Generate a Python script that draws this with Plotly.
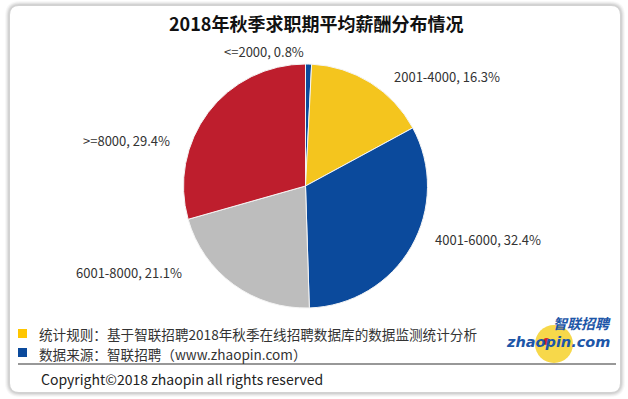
import plotly.graph_objects as go

# ---- data ----
categories = ["<=2000", "2001-4000", "4001-6000", "6001-8000", ">=8000"]
shares = [0.8, 16.3, 32.4, 21.1, 29.4]
slice_colors = ["#0B4A9C", "#F4C51E", "#0B4A9C", "#BDBDBD", "#BE1E2D"]
title_text = "2018年秋季求职期平均薪酬分布情况"
note_rule = "统计规则：基于智联招聘2018年秋季在线招聘数据库的数据监测统计分析"
note_source = "数据来源：智联招聘（www.zhaopin.com）"
copyright_text = "Copyright©2018 zhaopin all rights reserved"

W, H = 628, 399
FONT = "Noto Sans CJK SC"

def px(x):
    return x / W

def py(y):
    return 1 - y / H

fig = go.Figure()
fig.add_trace(go.Pie(
    labels=categories, values=shares, sort=False, direction="clockwise",
    rotation=0, marker=dict(colors=slice_colors, line=dict(color="#F4F4F4", width=1)),
    textinfo="none", hoverinfo="label+percent", showlegend=False,
    domain=dict(x=[px(183), px(428)], y=[py(308), py(64)]),
))

# label positions (layout only)
label_pos = [(264, 51), (447, 77), (488, 239), (129, 272), (126, 141)]
annotations = []
for cat, val, (lx, ly) in zip(categories, shares, label_pos):
    annotations.append(dict(
        x=px(lx), y=py(ly), xref="paper", yref="paper", showarrow=False,
        text=f"{cat}, {val:.1f}%", font=dict(family=FONT, size=13, color="#333333"),
        xanchor="center", yanchor="middle"))

annotations += [
    dict(x=px(316), y=py(23), xref="paper", yref="paper", showarrow=False,
         text=f"<b>{title_text}</b>", font=dict(family=FONT, size=18, color="#111111"),
         xanchor="center", yanchor="middle"),
    dict(x=px(37), y=py(334), xref="paper", yref="paper", showarrow=False,
         text=note_rule, font=dict(family=FONT, size=13.6, color="#333333"),
         xanchor="left", yanchor="middle"),
    dict(x=px(37), y=py(354), xref="paper", yref="paper", showarrow=False,
         text=note_source, font=dict(family=FONT, size=13.6, color="#333333"),
         xanchor="left", yanchor="middle"),
    dict(x=px(39), y=py(379), xref="paper", yref="paper", showarrow=False,
         text=copyright_text, font=dict(family=FONT, size=14, color="#222222"),
         xanchor="left", yanchor="middle"),
    dict(x=px(613), y=py(323), xref="paper", yref="paper", showarrow=False,
         text="<b><i>智联招聘</i></b>", font=dict(family=FONT, size=14, color="#1D56A8"),
         xanchor="right", yanchor="middle"),
    dict(x=px(612), y=py(342), xref="paper", yref="paper", showarrow=False,
         text="<b><i>zhaopin.com</i></b>", font=dict(family="DejaVu Sans", size=14.5, color="#1D56A8"),
         xanchor="right", yanchor="middle"),
]

shapes = []
def rounded(x0, y0, x1, y1, r):
    return (f"M{x0+r},{y0} L{x1-r},{y0} Q{x1},{y0} {x1},{y0+r} L{x1},{y1-r} "
            f"Q{x1},{y1} {x1-r},{y1} L{x0+r},{y1} Q{x0},{y1} {x0},{y1-r} "
            f"L{x0},{y0+r} Q{x0},{y0} {x0+r},{y0} Z")

# card shadow layers
for i, op in enumerate([0.05, 0.07, 0.10, 0.14]):
    d = 5 - i
    shapes.append(dict(type="path", xref="x", yref="y", layer="below",
                       path=rounded(10 - d, 6 - d, 620 + d, 392 + d, 10 + d),
                       fillcolor=f"rgba(120,120,120,{op})", line=dict(width=0)))
shapes.append(dict(type="path", xref="x", yref="y", layer="below",
                   path=rounded(10, 6, 620, 392, 9), fillcolor="white", line=dict(width=0)))
# legend squares
shapes.append(dict(type="rect", xref="x", yref="y", x0=18, x1=27, y0=329, y1=338,
                   fillcolor="#FFC600", line=dict(width=0)))
shapes.append(dict(type="rect", xref="x", yref="y", x0=18, x1=27, y0=348, y1=357,
                   fillcolor="#0B4A9C", line=dict(width=0)))
# separator line
shapes.append(dict(type="line", xref="x", yref="y", x0=18, x1=616, y0=364, y1=364,
                   line=dict(color="#333333", width=1.2)))
# logo circle
shapes.append(dict(type="circle", xref="x", yref="y", layer="below", x0=535, x1=573, y0=325, y1=363,
                   fillcolor="#F7D84A", line=dict(width=0)))
shapes.append(dict(type="circle", xref="x", yref="y", x0=543, x1=550, y0=338, y1=345,
                   fillcolor="#D2232A", line=dict(width=0)))

fig.update_layout(
    width=W, height=H, margin=dict(l=0, r=0, t=0, b=0),
    paper_bgcolor="white", plot_bgcolor="rgba(0,0,0,0)",
    xaxis=dict(range=[0, W], visible=False, fixedrange=True),
    yaxis=dict(range=[H, 0], visible=False, fixedrange=True),
    shapes=shapes, annotations=annotations,
)
fig.write_html("out.html", config={"displayModeBar": False},
               post_script="document.body.style.margin='0px';document.body.style.overflow='hidden';")
